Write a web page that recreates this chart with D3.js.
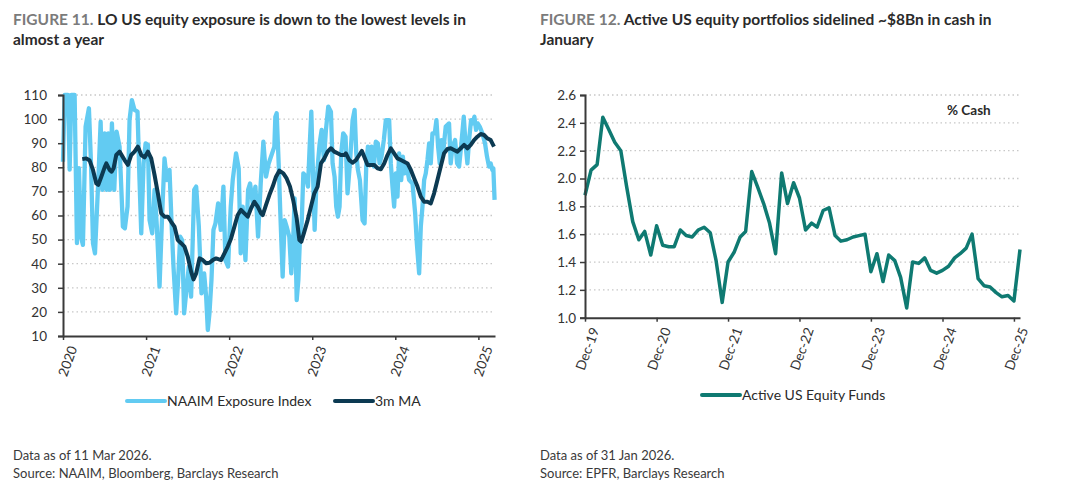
<!DOCTYPE html>
<html><head><meta charset="utf-8">
<script src="https://cdn.jsdelivr.net/npm/d3@7"></script>
<style>
body{margin:0;background:#fff;}
svg{font-family:Lato,"Noto Sans",sans-serif;}
</style></head><body>
<svg id="c" width="1080" height="504"></svg>
<script>
// ---------- Figure 11 data (decimal year, value) ----------
const naaimX = [2020.000,2020.020,2020.060,2020.080,2020.100,2020.140,2020.168,2020.192,2020.216,2020.240,2020.272,2020.312,2020.337,2020.361,2020.385,2020.425,2020.453,2020.473,2020.501,2020.525,2020.545,2020.565,2020.589,2020.617,2020.645,2020.681,2020.721,2020.745,2020.777,2020.801,2020.829,2020.861,2020.897,2020.921,2020.942,2020.970,2020.994,2021.022,2021.042,2021.074,2021.102,2021.130,2021.162,2021.194,2021.222,2021.250,2021.282,2021.310,2021.330,2021.362,2021.386,2021.410,2021.434,2021.458,2021.482,2021.514,2021.542,2021.579,2021.603,2021.635,2021.667,2021.699,2021.723,2021.743,2021.763,2021.787,2021.811,2021.835,2021.867,2021.899,2021.931,2021.955,2021.987,2022.019,2022.043,2022.083,2022.115,2022.139,2022.163,2022.196,2022.228,2022.252,2022.284,2022.316,2022.348,2022.380,2022.412,2022.444,2022.476,2022.544,2022.556,2022.572,2022.596,2022.616,2022.644,2022.668,2022.692,2022.724,2022.748,2022.772,2022.788,2022.813,2022.833,2022.853,2022.873,2022.893,2022.925,2022.949,2022.969,2022.989,2023.009,2023.029,2023.049,2023.069,2023.089,2023.113,2023.141,2023.165,2023.193,2023.225,2023.245,2023.269,2023.289,2023.309,2023.329,2023.349,2023.373,2023.401,2023.425,2023.454,2023.486,2023.510,2023.530,2023.550,2023.574,2023.606,2023.630,2023.650,2023.670,2023.690,2023.714,2023.742,2023.766,2023.790,2023.810,2023.834,2023.862,2023.886,2023.926,2023.946,2023.966,2023.986,2024.006,2024.026,2024.046,2024.071,2024.091,2024.111,2024.131,2024.167,2024.207,2024.239,2024.259,2024.287,2024.307,2024.327,2024.347,2024.367,2024.387,2024.407,2024.427,2024.447,2024.475,2024.495,2024.515,2024.535,2024.555,2024.575,2024.607,2024.647,2024.667,2024.688,2024.720,2024.744,2024.768,2024.792,2024.824,2024.848,2024.868,2024.888,2024.912,2024.932,2024.952,2024.972,2024.992,2025.016,2025.048,2025.080,2025.104,2025.128,2025.148,2025.168,2025.180,2025.195];
const naaimY = [82.3,110,110,79,110,110,48.5,79.6,51.2,47.8,96.9,104.5,81.6,48.5,44.3,74.7,98.9,70.6,94.1,70.6,94.1,70.6,98.2,70.6,94.8,88.6,55.4,54.7,63.7,99.6,107.9,103.8,103.1,74.7,52.6,81.6,89.9,89.3,58.1,52.6,70.6,55.4,30.5,60.9,83.7,74.7,78.9,54.0,38.8,19.4,33.2,51.2,49.8,19.4,27.7,38.8,26.3,70.6,72.0,55.4,27.7,36.0,26.3,12.5,19.4,33.2,54.0,56.7,65.0,54.0,72.0,41.5,38.8,63.7,74.7,85.8,79.6,44.3,63.7,41.5,70.6,73.3,65.0,72.0,51.2,73.3,90.6,76.1,81.6,88.6,101,102.4,81.6,60.9,34.6,58.1,55.4,51.2,36.0,51.2,67.1,24.9,33.2,51.2,56.7,77.5,76.1,72.0,88.6,103.1,77.5,54.0,72.0,81.6,89.9,95.5,83.0,95.5,105.2,103.1,81.6,76.1,63.7,59.5,63.7,85.8,94.1,92.7,69.2,81.6,99.6,103.8,85.8,78.9,74.7,58.1,56.7,80.3,88.6,81.6,88.6,80.3,90.6,89.9,81.6,84.4,91.3,99.6,99.6,81.6,72.0,63.7,77.5,67.8,85.8,74.7,84.4,77.5,81.6,74.7,73.3,60.9,48.5,36.0,55.4,63.7,74.7,77.5,83.0,89.9,81.6,94.1,94.1,99.6,88.6,81.6,91.3,85.8,96.9,98.2,81.6,88.6,91.3,81.6,80.3,88.6,101.0,88.6,81.6,91.3,99.6,98.2,101.0,95.5,98.2,96.9,94.1,89.9,84.4,80.3,81.6,78.9,79.6,66.5];
const maX = [2020.232,2020.280,2020.321,2020.361,2020.401,2020.425,2020.461,2020.501,2020.521,2020.561,2020.585,2020.609,2020.641,2020.681,2020.741,2020.781,2020.821,2020.861,2020.901,2020.942,2020.982,2021.022,2021.062,2021.102,2021.142,2021.182,2021.222,2021.262,2021.302,2021.342,2021.382,2021.422,2021.462,2021.502,2021.542,2021.571,2021.603,2021.643,2021.683,2021.723,2021.763,2021.803,2021.843,2021.903,2021.943,2021.983,2022.023,2022.063,2022.103,2022.143,2022.184,2022.224,2022.264,2022.304,2022.344,2022.384,2022.404,2022.444,2022.484,2022.524,2022.564,2022.604,2022.652,2022.692,2022.732,2022.772,2022.813,2022.845,2022.869,2022.905,2022.945,2022.985,2023.025,2023.065,2023.105,2023.145,2023.185,2023.225,2023.265,2023.305,2023.345,2023.385,2023.405,2023.446,2023.486,2023.526,2023.566,2023.598,2023.626,2023.666,2023.706,2023.746,2023.786,2023.826,2023.866,2023.906,2023.946,2023.986,2024.026,2024.067,2024.107,2024.147,2024.187,2024.227,2024.267,2024.307,2024.347,2024.387,2024.427,2024.467,2024.507,2024.547,2024.587,2024.627,2024.667,2024.707,2024.748,2024.788,2024.828,2024.868,2024.908,2024.948,2024.988,2025.028,2025.068,2025.108,2025.148,2025.188];
const maY = [83.4,83.7,82.8,78.9,73.3,72.7,76.1,80.0,81.6,78.9,78.2,79.6,85.1,86.5,83.0,81.0,85.1,86.5,88.6,85.1,84.1,86.5,83.7,76.8,69.2,60.9,59.5,59.5,57.4,55.4,49.8,48.5,47.1,42.9,36.7,33.5,36.0,42.2,41.5,40.2,40.4,41.5,42.2,41.5,44.3,47.1,50.5,55.4,60.2,62.3,60.9,59.5,63.0,65.7,63.7,60.9,60.2,64.4,68.5,72.0,76.1,78.6,77.5,75.4,72.0,66.2,58.8,49.8,49.1,53.3,58.1,63.7,69.2,72.0,81.6,83.7,86.5,87.9,86.5,85.8,85.1,85.1,85.8,83.0,81.9,83.0,85.1,86.8,84.4,81.0,81.0,81.0,79.6,79.2,81.6,85.1,87.9,85.8,83.7,83.0,82.3,81.6,78.9,75.4,72.0,67.8,65.7,65.7,65.0,69.2,74.7,80.3,85.8,87.6,87.9,87.2,86.5,87.9,89.3,87.9,89.3,91.3,92.7,93.8,93.4,92.0,91.3,88.6];
const leftYTicks = [10,20,30,40,50,60,70,80,90,100,110];
const leftXTicks = [2020,2021,2022,2023,2024,2025];
const leftSeries = ["NAAIM Exposure Index","3m MA"];

// ---------- Figure 12 data (monthly, Dec-19 .. Jan-26) ----------
const cashStart = "2019-12-01";
const cashValues = [1.88,2.06,2.10,2.44,2.35,2.26,2.20,1.94,1.69,1.56,1.62,1.45,1.66,1.52,1.51,1.51,1.63,1.59,1.58,1.63,1.65,1.61,1.41,1.11,1.40,1.47,1.58,1.62,2.05,1.94,1.82,1.68,1.46,2.04,1.82,1.97,1.86,1.63,1.68,1.65,1.77,1.79,1.59,1.55,1.56,1.58,1.59,1.60,1.33,1.46,1.26,1.45,1.41,1.29,1.07,1.40,1.39,1.43,1.34,1.32,1.34,1.37,1.43,1.46,1.50,1.60,1.28,1.23,1.22,1.18,1.15,1.16,1.12,1.49];
const rightYTicks = [1.0,1.2,1.4,1.6,1.8,2.0,2.2,2.4,2.6];
const rightXTicks = ["Dec-19","Dec-20","Dec-21","Dec-22","Dec-23","Dec-24","Dec-25"];
const rightSeries = ["Active US Equity Funds"];

const svg = d3.select("#c");
const C = {light:"#62cbf2", navy:"#0c3a52", teal:"#0f7a72", axis:"#3a3a3a", grid:"#c8c8c8", text:"#333"};

// titles
function title(x, parts, line2){
  const t = svg.append("text").attr("x",x).attr("y",25).attr("font-size",15.5).attr("font-weight",700);
  t.append("tspan").attr("fill","#7b7b7b").text(parts[0]);
  t.append("tspan").attr("fill","#2a2a2a").text(parts[1]);
  svg.append("text").attr("x",x).attr("y",45).attr("font-size",15.5).attr("font-weight",700).attr("fill","#2a2a2a").text(line2);
}
title(13,["FIGURE 11. ","LO US equity exposure is down to the lowest levels in"],"almost a year");
title(540,["FIGURE 12. ","Active US equity portfolios sidelined ~$8Bn in cash in"],"January");

// ---------- left chart ----------
const xL = d3.scaleLinear([2020,2025.2],[63,495]);
const yL = d3.scaleLinear([10,110],[336,95]);
const gL = svg.append("g");
gL.append("g").selectAll("line").data(leftYTicks.filter(d=>d>10)).join("line")
  .attr("x1",63).attr("x2",495).attr("y1",d=>yL(d)).attr("y2",d=>yL(d))
  .attr("stroke",C.grid).attr("stroke-width",1.3).attr("stroke-dasharray","1.5,3");
svg.append("defs").append("clipPath").attr("id","clipL").append("rect")
  .attr("x",60).attr("y",92).attr("width",440).attr("height",246);
const line = (xs,ys,sx,sy)=>d3.line().x((d,i)=>sx(xs[i])).y((d,i)=>sy(ys[i]))(ys);
gL.append("path").attr("d",line(naaimX,naaimY,xL,yL)).attr("fill","none").attr("stroke",C.light)
  .attr("stroke-width",4.3).attr("stroke-linejoin","round").attr("clip-path","url(#clipL)");
gL.append("path").attr("d",line(maX,maY,xL,yL)).attr("fill","none").attr("stroke",C.navy)
  .attr("stroke-width",4).attr("stroke-linejoin","round");
gL.append("g").attr("transform","translate(63,0)")
  .call(d3.axisLeft(yL).tickValues(leftYTicks).tickSize(5).tickPadding(11));
const axB = gL.append("g").attr("transform","translate(0,336)")
  .call(d3.axisBottom(xL).tickValues(leftXTicks).tickFormat(d3.format("d")).tickSize(4).tickSizeOuter(0));
axB.selectAll("text").attr("text-anchor","end").attr("transform","translate(3,8) rotate(-70)").attr("dy","0.35em").attr("dx","0");
// ---------- right chart ----------
const parse = d3.timeParse("%Y-%m-%d");
const months = d3.timeMonth.range(parse(cashStart), d3.timeMonth.offset(parse(cashStart), cashValues.length));
const xR = d3.scaleTime([parse("2019-12-01"), parse("2026-01-01")],[585,1020]);
const yR = d3.scaleLinear([1.0,2.6],[317.7,95]);
const gR = svg.append("g");
gR.append("g").selectAll("line").data(rightYTicks.filter(d=>d>1)).join("line")
  .attr("x1",585).attr("x2",1020).attr("y1",d=>yR(d)).attr("y2",d=>yR(d))
  .attr("stroke",C.grid).attr("stroke-width",1.3).attr("stroke-dasharray","1.5,3");
gR.append("path").attr("d",d3.line().x((d,i)=>xR(months[i])).y(d=>yR(d))(cashValues))
  .attr("fill","none").attr("stroke",C.teal).attr("stroke-width",3.5).attr("stroke-linejoin","round");
gR.append("g").attr("transform","translate(585,0)")
  .call(d3.axisLeft(yR).tickValues(rightYTicks).tickFormat(d3.format(".1f")).tickSize(5).tickPadding(4));
const decTicks = rightXTicks.map(s=>d3.timeParse("%b-%y")(s));
const axRB = gR.append("g").attr("transform","translate(0,317.7)")
  .call(d3.axisBottom(xR).tickValues(decTicks).tickFormat((d,i)=>rightXTicks[i]).tickSize(4).tickSizeOuter(0));
axRB.selectAll("text").attr("text-anchor","end").attr("transform","translate(3,8) rotate(-70)").attr("dy","0.35em");
gR.append("text").attr("x",947).attr("y",115).attr("font-size",13.5).attr("font-weight",700).attr("fill","#2a2a2a").text("% Cash");

// axis styling
svg.selectAll(".domain").attr("stroke",C.axis).attr("stroke-width",2);
svg.selectAll(".tick line").attr("stroke",C.axis).attr("stroke-width",1.5);
svg.selectAll(".tick text").attr("font-size",13.5).attr("fill",C.text).attr("font-family","Lato,'Noto Sans',sans-serif");

// legends
function legItem(x,y,color,label){
  svg.append("line").attr("x1",x).attr("x2",x+38).attr("y1",y).attr("y2",y).attr("stroke",color).attr("stroke-width",4).attr("stroke-linecap","round");
  svg.append("text").attr("x",x+40).attr("y",y+5).attr("font-size",14).attr("fill","#2a2a2a").text(label);
}
legItem(127,401,C.light,leftSeries[0]);
legItem(335,401,C.navy,leftSeries[1]);
legItem(702,395,C.teal,rightSeries[0]);

// footnotes
function foot(x,l1,l2){
  svg.append("text").attr("x",x).attr("y",460).attr("font-size",13).attr("fill","#3a3a3a").text(l1);
  svg.append("text").attr("x",x).attr("y",478).attr("font-size",13).attr("fill","#3a3a3a").text(l2);
}
foot(13,"Data as of 11 Mar 2026.","Source: NAAIM, Bloomberg, Barclays Research");
foot(540,"Data as of 31 Jan 2026.","Source: EPFR, Barclays Research");
</script></body></html>
